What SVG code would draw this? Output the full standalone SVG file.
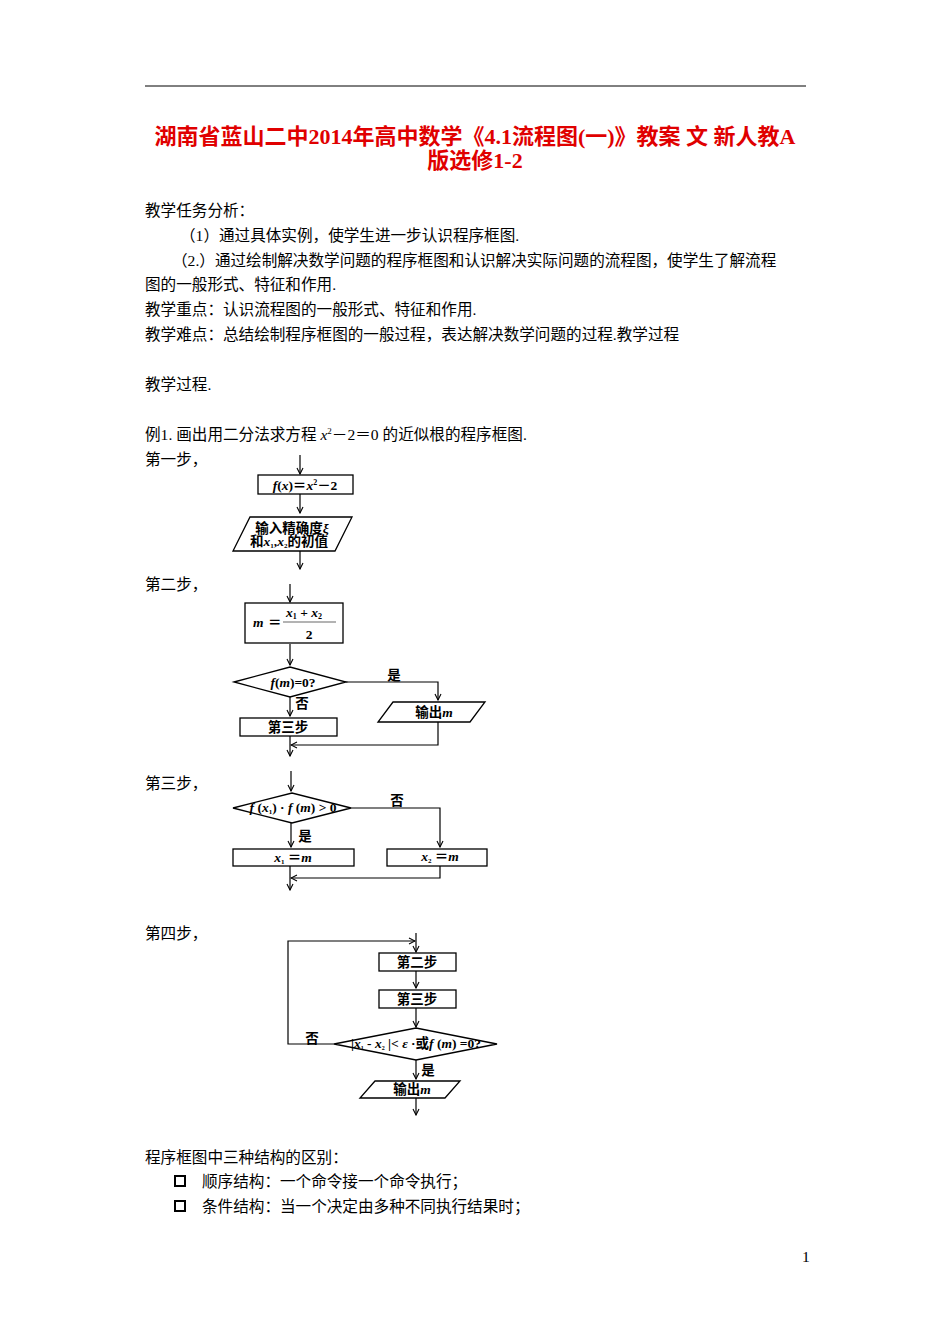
<svg xmlns="http://www.w3.org/2000/svg" width="950" height="1344" viewBox="0 0 950 1344">
<style>
.t{font-family:"Liberation Serif","Noto Sans CJK SC",serif;font-size:15.6px;fill:#000}
.ti{font-family:"Liberation Serif","Noto Sans CJK SC",serif;font-size:22px;font-weight:bold;fill:#e00000}
.b{font-family:"Liberation Serif","Noto Sans CJK SC",serif;font-size:13.5px;font-weight:bold;fill:#000}
.s{fill:#fff;stroke:#000;stroke-width:1.3}
.c{fill:none;stroke:#000;stroke-width:1.2}
</style>
<defs><marker id="a" markerWidth="8" markerHeight="8" refX="7" refY="4" orient="auto" markerUnits="userSpaceOnUse"><path d="M1,1 L7,4 L1,7" fill="none" stroke="#000" stroke-width="1.1"/></marker></defs>
<rect width="950" height="1344" fill="#fff"/>
<line x1="145" y1="86" x2="806" y2="86" stroke="#000" stroke-width="1"/>
<text class="ti" x="475" y="144" text-anchor="middle">湖南省蓝山二中2014年高中数学《4.1流程图(一)》教案 文 新人教A</text>
<text class="ti" x="475" y="168" text-anchor="middle">版选修1-2</text>
<text class="t" x="145" y="216">教学任务分析：</text>
<text class="t" x="180" y="241">（1）通过具体实例，使学生进一步认识程序框图.</text>
<text class="t" x="172" y="266">（2.）通过绘制解决数学问题的程序框图和认识解决实际问题的流程图，使学生了解流程</text>
<text class="t" x="145" y="290">图的一般形式、特征和作用.</text>
<text class="t" x="145" y="315">教学重点：认识流程图的一般形式、特征和作用.</text>
<text class="t" x="145" y="340">教学难点：总结绘制程序框图的一般过程，表达解决数学问题的过程.教学过程</text>
<text class="t" x="145" y="390">教学过程.</text>
<text class="t" x="145" y="440">例1. 画出用二分法求方程 <tspan font-style="italic">x</tspan><tspan font-size="9" dy="-6">2</tspan><tspan dy="6">－2＝0 的近似根的程序框图.</tspan></text>
<text class="t" x="145" y="465">第一步，</text>
<text class="t" x="145" y="590">第二步，</text>
<text class="t" x="145" y="789">第三步，</text>
<text class="t" x="145" y="939">第四步，</text>
<g id="connectors">
<path class="c" d="M300,455V474" marker-end="url(#a)"/>
<path class="c" d="M300,494V513" marker-end="url(#a)"/>
<path class="c" d="M300,551V569" marker-end="url(#a)"/>
<path class="c" d="M290,584V602" marker-end="url(#a)"/>
<path class="c" d="M290,644V665" marker-end="url(#a)"/>
<path class="c" d="M346,682H438V700" marker-end="url(#a)"/>
<path class="c" d="M290,697V716" marker-end="url(#a)"/>
<path class="c" d="M438,722V745H291" marker-end="url(#a)"/>
<path class="c" d="M290,736V756" marker-end="url(#a)"/>
<path class="c" d="M291,771V791" marker-end="url(#a)"/>
<path class="c" d="M351,808H440V847" marker-end="url(#a)"/>
<path class="c" d="M291,823V847" marker-end="url(#a)"/>
<path class="c" d="M440,866V878H291" marker-end="url(#a)"/>
<path class="c" d="M290,866V890" marker-end="url(#a)"/>
<path class="c" d="M416,933V952" marker-end="url(#a)"/>
<path class="c" d="M334,1044H288V941H415" marker-end="url(#a)"/>
<path class="c" d="M416,971V988" marker-end="url(#a)"/>
<path class="c" d="M416,1008V1027" marker-end="url(#a)"/>
<path class="c" d="M416,1060V1079" marker-end="url(#a)"/>
<path class="c" d="M416,1098V1115" marker-end="url(#a)"/>
<text class="b" x="394" y="680" text-anchor="middle">是</text>
<text class="b" x="302" y="708" text-anchor="middle">否</text>
<text class="b" x="397" y="805" text-anchor="middle">否</text>
<text class="b" x="305" y="841" text-anchor="middle">是</text>
<text class="b" x="312" y="1043" text-anchor="middle">否</text>
<text class="b" x="428" y="1075" text-anchor="middle">是</text>
</g>
<g id="n1"><rect class="s" x="258" y="475" width="95" height="19"/><text class="b" x="305" y="490" text-anchor="middle" font-size="14.5"><tspan font-style="italic">f</tspan>(<tspan font-style="italic">x</tspan>)＝<tspan font-style="italic">x</tspan><tspan font-size="8" dy="-5">2</tspan><tspan dy="5">－2</tspan></text></g>
<g id="n2"><polygon class="s" points="250,517 352,517 335,551 233,551"/><text class="b" x="292" y="533" text-anchor="middle" font-size="12.5">输入精确度<tspan font-style="italic">ξ</tspan></text><text class="b" x="289" y="546" text-anchor="middle" font-size="12.5">和<tspan font-style="italic">x</tspan><tspan font-size="7" dy="2">1</tspan><tspan dy="-2">,</tspan><tspan font-style="italic">x</tspan><tspan font-size="7" dy="2">2</tspan><tspan dy="-2">的初值</tspan></text></g>
<g id="n3"><rect class="s" x="245" y="603" width="98" height="40"/><text class="b" x="253" y="627" font-style="italic" font-size="14">m</text><text class="b" x="268" y="627" font-size="14">＝</text><line x1="283" y1="622" x2="336" y2="622" stroke="#000" stroke-width="0.6"/><text class="b" x="286" y="617" font-size="14"><tspan font-style="italic">x</tspan><tspan font-size="8" dy="2">1</tspan><tspan dy="-2"> + </tspan><tspan font-style="italic">x</tspan><tspan font-size="8" dy="2">2</tspan></text><text class="b" x="309" y="639" text-anchor="middle" font-size="14">2</text></g>
<g id="n4"><polygon class="s" points="234,682 290,667 346,682 290,697"/><text class="b" x="293" y="687" text-anchor="middle" font-size="14"><tspan font-style="italic">f</tspan>(<tspan font-style="italic">m</tspan>)=0?</text></g>
<g id="n5"><polygon class="s" points="393,702 485,702 470,722 378,722"/><text class="b" x="434" y="717" text-anchor="middle" font-size="14">输出<tspan font-style="italic">m</tspan></text></g>
<g id="n6"><rect class="s" x="240" y="718" width="97" height="18"/><text class="b" x="288" y="732" text-anchor="middle" font-size="14">第三步</text></g>
<g id="n7"><polygon class="s" points="233,808 292,793 351,808 292,823"/><text class="b" x="293" y="812" text-anchor="middle" font-size="12"><tspan font-style="italic">f</tspan> (<tspan font-style="italic">x</tspan><tspan font-size="7" dy="2">1</tspan><tspan dy="-2">) · </tspan><tspan font-style="italic">f</tspan> (<tspan font-style="italic">m</tspan>) &gt; 0</text></g>
<g id="n8"><rect class="s" x="233" y="849" width="121" height="17"/><text class="b" x="293" y="862" text-anchor="middle" font-size="13"><tspan font-style="italic">x</tspan><tspan font-size="7" dy="2">1</tspan><tspan dy="-2"> ＝</tspan><tspan font-style="italic">m</tspan></text></g>
<g id="n9"><rect class="s" x="387" y="849" width="100" height="17"/><text class="b" x="440" y="861" text-anchor="middle" font-size="13"><tspan font-style="italic">x</tspan><tspan font-size="7" dy="2">2</tspan><tspan dy="-2"> ＝</tspan><tspan font-style="italic">m</tspan></text></g>
<g id="n10"><rect class="s" x="379" y="953" width="77" height="18"/><text class="b" x="417" y="967" text-anchor="middle" font-size="14">第二步</text></g>
<g id="n11"><rect class="s" x="379" y="990" width="77" height="18"/><text class="b" x="417" y="1004" text-anchor="middle" font-size="14">第三步</text></g>
<g id="n12"><polygon class="s" points="334,1044 416,1028 497,1044 416,1060"/><text class="b" x="416" y="1048" text-anchor="middle" font-size="10.5">|<tspan font-style="italic">x</tspan><tspan font-size="6" dy="2">1</tspan><tspan dy="-2"> - </tspan><tspan font-style="italic">x</tspan><tspan font-size="6" dy="2">2</tspan><tspan dy="-2"> |&lt; </tspan><tspan font-style="italic">ε</tspan> ·或<tspan font-style="italic">f</tspan> (<tspan font-style="italic">m</tspan>) =0?</text></g>
<g id="n13"><polygon class="s" points="375,1081 460,1081 445,1098 360,1098"/><text class="b" x="412" y="1094" text-anchor="middle" font-size="14">输出<tspan font-style="italic">m</tspan></text></g>
<text class="t" x="145" y="1163">程序框图中三种结构的区别：</text>
<rect x="175" y="1176" width="10" height="10" fill="none" stroke="#000" stroke-width="2"/>
<text class="t" x="202" y="1187">顺序结构：一个命令接一个命令执行；</text>
<rect x="175" y="1201" width="10" height="10" fill="none" stroke="#000" stroke-width="2"/>
<text class="t" x="202" y="1212">条件结构：当一个决定由多种不同执行结果时；</text>
<text class="t" x="802" y="1262" font-size="13">1</text>
</svg>
